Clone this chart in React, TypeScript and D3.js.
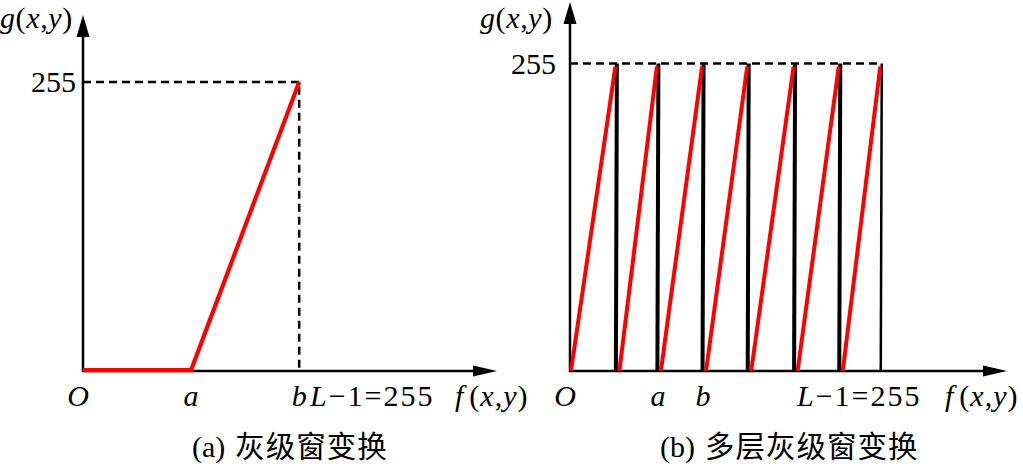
import React, { useEffect, useRef } from "react";
import * as d3 from "d3";

// panel (a): gray-level window
const windowF = [0, 100, 200];
const windowG = [0, 0, 255];
// panel (b): multi-level window, sawtooth breakpoints on f
const sawBreaks = [0, 38, 72, 109, 146, 184, 221, 255];
const gMax = 255;
const labelsA = [
  { text: "O", v: 0 },
  { text: "a", v: 100 },
  { text: "b", v: 200 },
];
const labelsB = [
  { text: "O", v: 0 },
  { text: "a", v: 72 },
  { text: "b", v: 109 },
];
const captionTags = ["(a)", "(b)"];
const captions = ["灰级窗变换", "多层灰级窗变换"];

const SERIF = "Liberation Serif, DejaVu Serif, serif";
const CJK = "Noto Sans CJK SC, sans-serif";

const App = () => {
  const svgRef = useRef<SVGSVGElement>(null);

  useEffect(() => {
    const svg = d3.select(svgRef.current);
    svg.selectAll("*").remove();

    const width = 1023;
    const height = 464;
    svg.attr("width", width).attr("height", height);

    const drawAxes = (g, x, y, xEnd, yEnd) => {
      const x0 = x(0);
      const y0 = y(0);
      g.append("line")
        .attr("x1", x0).attr("y1", y0 + 1)
        .attr("x2", x0).attr("y2", y(yEnd) + 12)
        .attr("stroke", "black").attr("stroke-width", 2.5);
      g.append("path")
        .attr("d", `M${x0},${y(yEnd)} L${x0 - 6.5},${y(yEnd) + 22} L${x0 + 6.5},${y(yEnd) + 22} Z`)
        .attr("fill", "black");
      g.append("line")
        .attr("x1", x0 - 1).attr("y1", y0)
        .attr("x2", x(xEnd) - 12).attr("y2", y0)
        .attr("stroke", "black").attr("stroke-width", 2.5);
      g.append("path")
        .attr("d", `M${x(xEnd)},${y0} L${x(xEnd) - 24},${y0 - 5.5} L${x(xEnd) - 24},${y0 + 5.5} Z`)
        .attr("fill", "black");
    };

    const serifText = (g, xPos, yPos) =>
      g.append("text")
        .attr("x", xPos).attr("y", yPos)
        .attr("font-family", SERIF).attr("font-size", 30);

    const gLabel = (g, xPos, yPos) => {
      const t = serifText(g, xPos, yPos).attr("letter-spacing", 0.6);
      t.append("tspan").attr("font-style", "italic").text("g");
      t.append("tspan").text("(");
      t.append("tspan").attr("font-style", "italic").text("x");
      t.append("tspan").text(",");
      t.append("tspan").attr("font-style", "italic").text("y");
      t.append("tspan").text(")");
    };

    const fLabel = (g, xPos, yPos) => {
      const t = serifText(g, xPos, yPos).attr("letter-spacing", 1);
      t.append("tspan").attr("font-style", "italic").text("f");
      t.append("tspan").attr("dx", 5).text("(");
      t.append("tspan").attr("font-style", "italic").text("x");
      t.append("tspan").text(",");
      t.append("tspan").attr("font-style", "italic").text("y");
      t.append("tspan").text(")");
    };

    const lLabel = (g, xPos, yPos) => {
      const t = serifText(g, xPos, yPos).attr("letter-spacing", 2);
      t.append("tspan").attr("font-style", "italic").text("L");
      t.append("tspan").text("\u22121=255");
    };

    const caption = (g, xPos, yPos, i) => {
      const t = g.append("text")
        .attr("x", xPos).attr("y", yPos);
      t.append("tspan").attr("font-family", SERIF).attr("font-size", 30).text(captionTags[i]);
      t.append("tspan")
        .attr("dx", 10)
        .attr("font-family", CJK)
        .attr("font-size", 29.5)
        .attr("letter-spacing", 1)
        .text(captions[i]);
    };

    const tickLabels = (g, x, labels, yPos) => {
      g.selectAll("text.tl")
        .data(labels)
        .enter()
        .append("text")
        .attr("class", "tl")
        .attr("x", (d) => x(d.v) + (d.text === "O" ? -5 : 0))
        .attr("y", yPos)
        .attr("text-anchor", "middle")
        .attr("font-family", SERIF)
        .attr("font-size", 30)
        .attr("font-style", "italic")
        .text((d) => d.text);
    };

    // ---------- panel (a)
    const xA = d3.scaleLinear().domain([0, 383]).range([83, 497]);
    const yA = d3.scaleLinear().domain([0, 314]).range([371, 15]);
    const gA = svg.append("g");

    // dashed guides
    gA.append("path")
      .attr("d", `M${xA(0)},${yA(gMax)} L${xA(windowF[2])},${yA(gMax)} L${xA(windowF[2])},${yA(0)}`)
      .attr("fill", "none").attr("stroke", "black")
      .attr("stroke-width", 2.5).attr("stroke-dasharray", "8,5");

    drawAxes(gA, xA, yA, 383, 314);

    const lineA = d3.line().x((d) => xA(d[0])).y((d) => yA(d[1]));
    gA.append("path")
      .attr("d", lineA(windowF.map((f, i) => [f, windowG[i]]).map((p, i) => (i < 2 ? [p[0], p[1] + 0.8] : p))))
      .attr("fill", "none").attr("stroke", "#ff0000")
      .attr("stroke-width", 4.2).attr("stroke-linejoin", "miter");

    gLabel(gA, 0, 28);
    serifText(gA, 76, 92).attr("text-anchor", "end").text("255");
    tickLabels(gA, xA, labelsA, 406);
    lLabel(gA, 310, 406);
    fLabel(gA, 455, 406);
    caption(gA, 192, 457, 0);

    // ---------- panel (b)
    const xB = d3.scaleLinear().domain([0, 358]).range([570, 1007]);
    const yB = d3.scaleLinear().domain([0, 306]).range([371, 2]);
    const gB = svg.append("g");

    gB.append("line")
      .attr("x1", xB(0)).attr("y1", yB(gMax))
      .attr("x2", xB(gMax)).attr("y2", yB(gMax))
      .attr("stroke", "black").attr("stroke-width", 2.5)
      .attr("stroke-dasharray", "8,5");

    // vertical drops
    gB.selectAll("line.drop")
      .data(sawBreaks.slice(1))
      .enter()
      .append("line")
      .attr("class", "drop")
      .attr("x1", (d) => xB(d) + 0.5).attr("y1", yB(gMax))
      .attr("x2", (d) => xB(d) - 0.5).attr("y2", yB(0))
      .attr("stroke", "black")
      .attr("stroke-width", (d, i) => (i === sawBreaks.length - 2 ? 2.5 : 4));

    drawAxes(gB, xB, yB, 358, 306);

    // red ramps
    gB.selectAll("line.ramp")
      .data(d3.pairs(sawBreaks))
      .enter()
      .append("line")
      .attr("class", "ramp")
      .attr("x1", (d) => xB(d[0]) + (d[0] === 0 ? 1 : 3)).attr("y1", yB(0))
      .attr("x2", (d) => xB(d[1]) - 1).attr("y2", yB(gMax) + 3)
      .attr("stroke", "#ff0000").attr("stroke-width", 4);

    gLabel(gB, 480, 28);
    serifText(gB, 556, 74).attr("text-anchor", "end").text("255");
    tickLabels(gB, xB, labelsB, 406);
    lLabel(gB, 797, 406);
    fLabel(gB, 945, 406);
    caption(gB, 660, 457, 1);
  }, []);

  return (
    <svg
      ref={svgRef}
      style={{ position: "absolute", left: 0, top: 0, background: "white" }}
    ></svg>
  );
};

export default App;
